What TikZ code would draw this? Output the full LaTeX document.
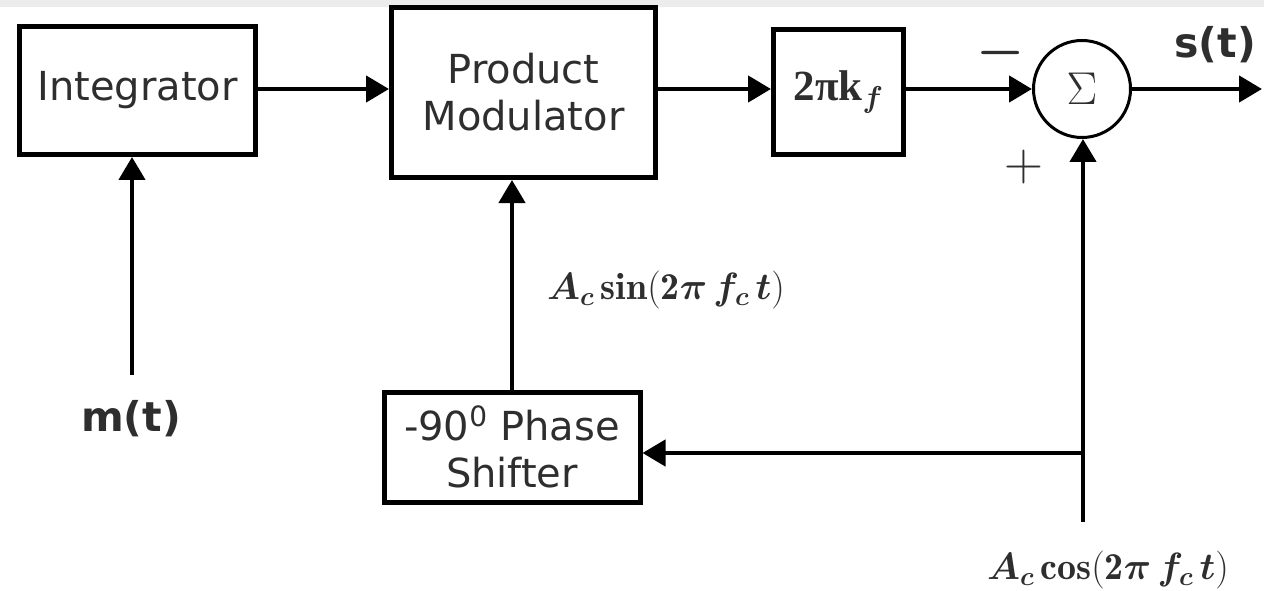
\RequirePackage{fix-cm}
\documentclass[tikz,border=0pt]{standalone}
\usepackage{amsmath,bm}
\usepackage{fontspec}
\usetikzlibrary{arrows.meta,calc}
\newfontfamily\dvsans{DejaVu Sans}
\newfontfamily\lserif{Liberation Serif}
\definecolor{txt}{HTML}{2E2E2E}
\definecolor{strip}{HTML}{ECECEC}
\begin{document}
\begin{tikzpicture}[x=1pt,y=-1pt,
  blk/.style={draw=black,line width=5pt,text=txt,align=center,inner sep=0pt,
              font=\dvsans\fontsize{40}{47}\selectfont},
  conn/.style={line width=4.5pt,-{Triangle[length=23pt,width=26pt]}},
  lbl/.style={text=txt,inner sep=0pt},
  sanslbl/.style={lbl,font=\dvsans\bfseries\fontsize{41}{41}\selectfont},
  mathlbl/.style={lbl,font=\fontsize{38}{40}\selectfont},
  signlbl/.style={lbl,font=\fontsize{54}{54}\selectfont}]
\useasboundingbox (0,0) rectangle (1264,591);
\fill[strip] (0,0) rectangle (1264,7);

% blocks
\node[blk,minimum width=236pt,minimum height=128pt] (int) at (137.5,90.5) {Integrator};
\node[blk,minimum width=264pt,minimum height=170pt] (pm) at (523.5,92.5) {Product\\Modulator};
\node[blk,minimum width=130pt,minimum height=125pt,font=\fontsize{43}{46}\selectfont] (gain) at (838.5,92)
  {{\lserif\bfseries 2πk}$_{\bm{f}}$};
\node[draw=black,circle,line width=3pt,minimum size=97pt,inner sep=0pt,text=txt,
      font=\fontsize{46}{48}\selectfont] (sum) at (1082,89) {$\Sigma$};
\node[blk,minimum width=256pt,minimum height=110pt] (ps) at (512,447)
  {-90\textsuperscript{0} Phase\\Shifter};

% signal points
\coordinate (min) at (132,375);
\coordinate (out) at (1262,89);
\coordinate (cin) at (1083,522);
\coordinate (br) at (1083,453);

% connectors
\draw[conn] (min) -- (min |- int.south);
\draw[conn] (int.east |- sum) -- (pm.west |- sum);
\draw[conn] (pm.east |- sum) -- (gain.west |- sum);
\draw[conn] (gain.east |- sum) -- (sum.west);
\draw[conn] (sum.east) -- (out);
\draw[conn] (ps.north) -- (ps.north |- pm.south);
\draw[conn] (cin) -- (cin |- sum.south);
\draw[conn] (br) -- (br -| ps.east);

% labels
\node[sanslbl] (mt) at (131,419) {m(t)};
\node[sanslbl] (st) at (1215,45) {s(t)};
\node[signlbl] (minus) at (1001,53) {$\bm{-}$};
\node[signlbl] (plus) at (1024,167) {$+$};
\node[mathlbl] (sinl) at (666,290) {$\bm{A_c}\,\mathbf{sin}(\mathbf{2}\bm{\pi\, f_c\, t})$};
\node[mathlbl] (cosl) at (1108,570) {$\bm{A_c}\,\mathbf{cos}(\mathbf{2}\bm{\pi\, f_c\, t})$};
\end{tikzpicture}
\end{document}
